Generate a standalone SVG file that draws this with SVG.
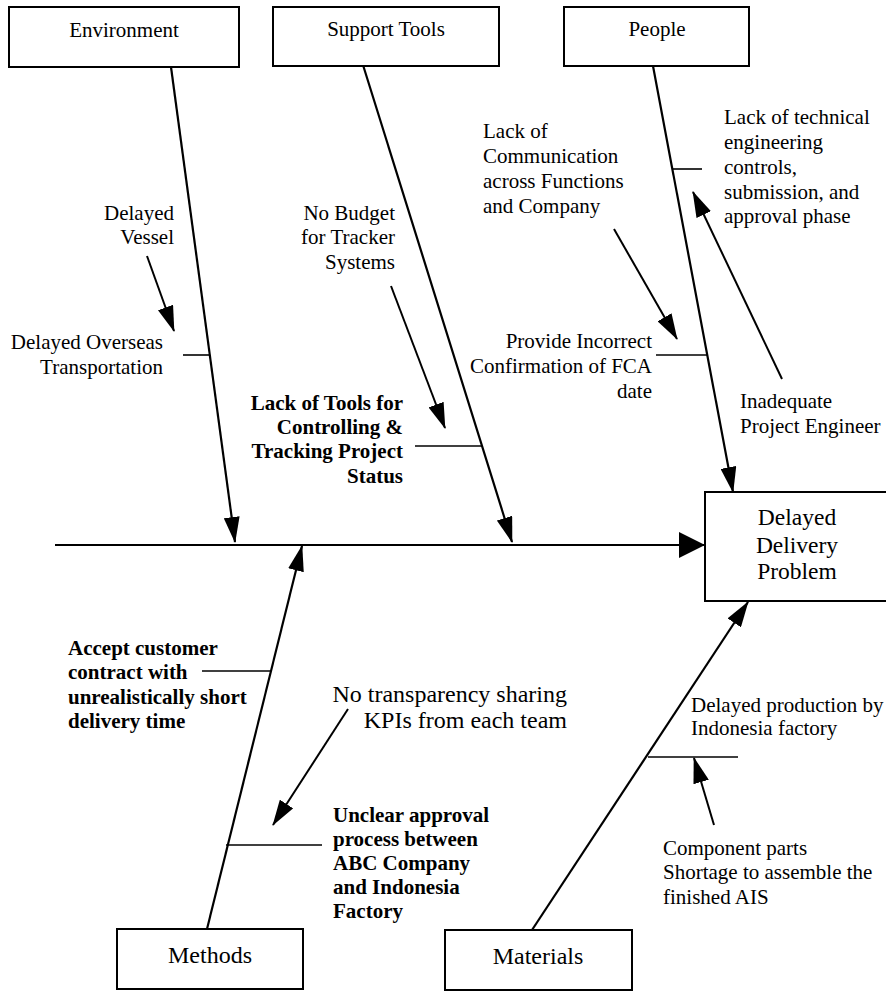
<svg xmlns="http://www.w3.org/2000/svg" width="886" height="991" viewBox="0 0 886 991">
<style>
  text { font-family: "Liberation Serif", "Times New Roman", serif; fill: #000; }
  .t { font-size: 21px; }
  .b { font-size: 21px; font-weight: bold; }
  .e { text-anchor: end; }
  .m { text-anchor: middle; }
  .box { fill: #fff; stroke: #000; stroke-width: 2; }
  .spine { stroke: #000; stroke-width: 2.2; fill: none; }
  .tick { stroke: #000; stroke-width: 1.6; fill: none; }
  .arr { stroke: #000; stroke-width: 2; fill: none; }
</style>
<defs>
  <marker id="ah" viewBox="0 0 26 16" refX="25" refY="8" markerWidth="26" markerHeight="16" orient="auto" markerUnits="userSpaceOnUse">
    <path d="M0,0 L26,8 L0,16 z" fill="#000"/>
  </marker>
  <marker id="big" viewBox="0 0 26 26" refX="25" refY="13" markerWidth="26" markerHeight="26" orient="auto" markerUnits="userSpaceOnUse">
    <path d="M0,0 L26,13 L0,26 z" fill="#000"/>
  </marker>
</defs>

<g id="connectors">
  <line class="spine" x1="55" y1="545" x2="704" y2="545" marker-end="url(#big)"/>
  <line class="spine" x1="171" y1="67" x2="235" y2="542" marker-end="url(#ah)"/>
  <line class="spine" x1="363" y1="65" x2="512" y2="542" marker-end="url(#ah)"/>
  <line class="spine" x1="653" y1="66" x2="733" y2="492" marker-end="url(#ah)"/>
  <line class="spine" x1="207" y1="929" x2="302" y2="546" marker-end="url(#ah)"/>
  <line class="spine" x1="532" y1="930" x2="748" y2="602" marker-end="url(#ah)"/>
  <line class="arr" x1="147" y1="256" x2="174" y2="331" marker-end="url(#ah)"/>
  <line class="arr" x1="391" y1="286" x2="445" y2="428" marker-end="url(#ah)"/>
  <line class="arr" x1="614" y1="229" x2="677" y2="339" marker-end="url(#ah)"/>
  <line class="arr" x1="782" y1="379" x2="693" y2="192" marker-end="url(#ah)"/>
  <line class="arr" x1="348" y1="709" x2="273" y2="825" marker-end="url(#ah)"/>
  <line class="arr" x1="714" y1="825" x2="694" y2="758" marker-end="url(#ah)"/>
</g>

<g id="environment">
  <rect class="box" x="9" y="7" width="230" height="60"/>
  <text class="t m" x="124" y="37">Environment</text>
</g>
<g id="support-tools">
  <rect class="box" x="273" y="7" width="226" height="59"/>
  <text class="t m" x="386" y="36">Support Tools</text>
</g>
<g id="people">
  <rect class="box" x="564" y="7" width="185" height="59"/>
  <text class="t m" x="657" y="36">People</text>
</g>
<g id="methods">
  <rect class="box" x="117" y="929" width="186" height="60"/>
  <text class="m" style="font-size:24px" x="210" y="963">Methods</text>
</g>
<g id="materials">
  <rect class="box" x="445" y="930" width="187" height="60"/>
  <text class="m" style="font-size:24px" x="538" y="964">Materials</text>
</g>
<g id="effect">
  <rect class="box" x="705" y="492" width="184" height="109"/>
  <text class="m" style="font-size:23.5px" x="797" y="525">Delayed</text>
  <text class="m" style="font-size:23.5px" x="797" y="553">Delivery</text>
  <text class="m" style="font-size:23.5px" x="797" y="579">Problem</text>
</g>

<g id="delayed-vessel">
  <text class="t e" x="174" y="220">Delayed</text>
  <text class="t e" x="174" y="244">Vessel</text>
</g>
<g id="delayed-overseas">
  <line class="tick" x1="183" y1="355" x2="210" y2="355"/>
  <text class="t e" x="163" y="349">Delayed Overseas</text>
  <text class="t e" x="163" y="374">Transportation</text>
</g>
<g id="no-budget">
  <text class="t e" x="395" y="220">No Budget</text>
  <text class="t e" x="395" y="244">for Tracker</text>
  <text class="t e" x="395" y="269">Systems</text>
</g>
<g id="lack-of-tools">
  <line class="tick" x1="415" y1="446" x2="482" y2="446"/>
  <text class="b e" x="403" y="410">Lack of Tools for</text>
  <text class="b e" x="403" y="434">Controlling &amp;</text>
  <text class="b e" x="403" y="458">Tracking Project</text>
  <text class="b e" x="403" y="483">Status</text>
</g>
<g id="lack-of-communication">
  <text class="t" x="483" y="138">Lack of</text>
  <text class="t" x="483" y="163">Communication</text>
  <text class="t" x="483" y="188">across Functions</text>
  <text class="t" x="483" y="213">and Company</text>
</g>
<g id="lack-of-technical">
  <line class="tick" x1="672" y1="169" x2="702" y2="169"/>
  <text class="t" x="724" y="124">Lack of technical</text>
  <text class="t" x="724" y="149">engineering</text>
  <text class="t" x="724" y="174">controls,</text>
  <text class="t" x="724" y="199">submission, and</text>
  <text class="t" x="724" y="223">approval phase</text>
</g>
<g id="provide-incorrect">
  <line class="tick" x1="656" y1="355" x2="707" y2="355"/>
  <text class="t e" x="652" y="348">Provide Incorrect</text>
  <text class="t e" x="652" y="373">Confirmation of FCA</text>
  <text class="t e" x="652" y="398">date</text>
</g>
<g id="inadequate-engineer">
  <text class="t" x="740" y="408">Inadequate</text>
  <text class="t" x="740" y="433">Project Engineer</text>
</g>
<g id="accept-contract">
  <line class="tick" x1="202" y1="671" x2="271" y2="671"/>
  <text class="b" x="68" y="655">Accept customer</text>
  <text class="b" x="68" y="679">contract with</text>
  <text class="b" x="68" y="704">unrealistically short</text>
  <text class="b" x="68" y="728">delivery time</text>
</g>
<g id="no-transparency">
  <text class="e" style="font-size:24px" x="567" y="702">No transparency sharing</text>
  <text class="e" style="font-size:24px" x="567" y="728">KPIs from each team</text>
</g>
<g id="unclear-approval">
  <line class="tick" x1="226" y1="845" x2="322" y2="845"/>
  <text class="b" x="333" y="822">Unclear approval</text>
  <text class="b" x="333" y="846">process between</text>
  <text class="b" x="333" y="870">ABC Company</text>
  <text class="b" x="333" y="894">and Indonesia</text>
  <text class="b" x="333" y="918">Factory</text>
</g>
<g id="delayed-production">
  <line class="tick" x1="648" y1="757" x2="738" y2="757"/>
  <text class="t" x="691" y="712">Delayed production by</text>
  <text class="t" x="691" y="735">Indonesia factory</text>
</g>
<g id="component-parts">
  <text class="t" x="663" y="855">Component parts</text>
  <text class="t" x="663" y="879">Shortage to assemble the</text>
  <text class="t" x="663" y="904">finished AIS</text>
</g>
</svg>
